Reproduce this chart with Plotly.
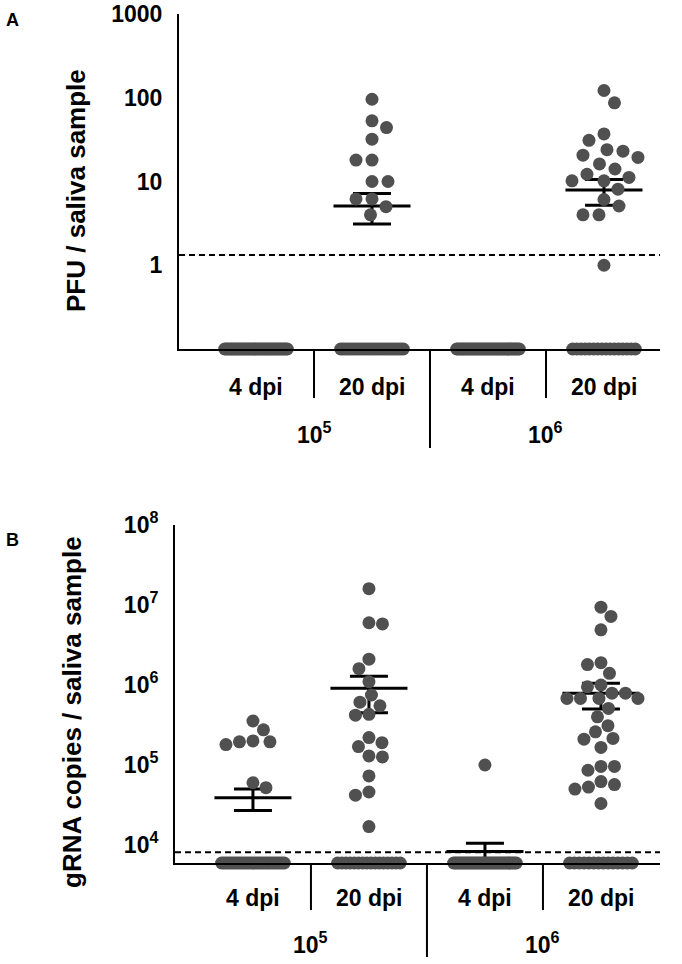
import math
import numpy as np
import plotly.graph_objects as go

# ---------------- data ----------------
group_labels = ["4 dpi", "20 dpi", "4 dpi", "20 dpi"]
dose_labels = ["10<sup>5</sup>", "10<sup>6</sup>"]

# Panel A: PFU / saliva sample (positive samples per group)
pfu_1e5_4dpi = []
pfu_1e5_20dpi = [96, 53, 44, 32, 18, 18, 10, 10, 6.2, 6.2, 5.0, 4.0]
pfu_1e6_4dpi = []
pfu_1e6_20dpi = [122, 87, 37, 31, 24, 23, 20.6, 19.4, 16.2, 14.1, 12.2, 11.2,
                 10.2, 10.2, 8.1, 6.1, 5.1, 4.0, 4.0, 1.0]
pfu_zero_counts = [36, 24, 36, 16]
pfu_mean = [None, 5.1, None, 7.9]
pfu_err_hi = [None, 7.2, None, 10.6]
pfu_err_lo = [None, 3.1, None, 5.2]
pfu_lod = 1.33

# Panel B: gRNA copies / saliva sample (positive samples per group)
rna_1e5_4dpi = [2.75e5, 3.55e5, 1.95e5, 1.8e5, 1.95e5, 2.0e5, 6.0e4, 5.2e4]
rna_1e5_20dpi = [1.6e7, 6.0e6, 5.8e6, 2.1e6, 1.6e6, 1.1e6, 7.5e5, 6.1e5, 5.5e5,
                 4.2e5, 4.3e5, 2.2e5, 1.9e5, 1.7e5, 1.3e5, 1.26e5, 7.3e4,
                 4.6e4, 4.2e4, 1.7e4]
rna_1e6_4dpi = [1.0e5]
rna_1e6_20dpi = [9.4e6, 7.2e6, 4.9e6, 1.9e6, 1.8e6, 1.4e6, 1.0e6, 9.5e5, 7.9e5,
                 7.9e5, 6.8e5, 6.8e5, 6.8e5, 6.8e5, 5.1e5, 4.0e5, 3.1e5, 2.6e5,
                 2.1e5, 2.15e5, 1.66e5, 9.6e4, 8.6e4, 9.6e4, 5.7e4, 6.2e4,
                 5.3e4, 5.0e4, 3.3e4]
rna_zero_counts = [28, 16, 35, 14]
rna_mean = [3.9e4, 9.1e5, 8.3e3, 7.9e5]
rna_err_hi = [5.0e4, 1.29e6, 1.05e4, 1.05e6]
rna_err_lo = [2.7e4, 4.5e5, 6.1e3, 5.0e5]
rna_lod = 8.1e3

# ---------------- layout constants ----------------
W, H = 682, 964
FONT = "Liberation Sans, Arial, Helvetica, sans-serif"
DOT = "rgb(80,80,80)"
PX_PER_UNIT = 116.0

A_xrange = [-0.664, 3.483]
A_yrange = [-1, 3]
A_top, A_bot = 14, 349
B_xrange = [-0.672, 3.509]
B_yrange = [3.775, 8]
B_top, B_bot = 525, 863


def swarm(values, px_per_decade, d=16.0, step=0.5):
    ys = [math.log10(v) * px_per_decade for v in values]
    order = sorted(range(len(values)), key=lambda i: -values[i])
    placed = []
    offs = [0.0] * len(values)
    pref = 1
    for i in order:
        y = ys[i]
        k = 0
        found = None
        while found is None:
            cands = [0.0] if k == 0 else [pref * k * step, -pref * k * step]
            for c in cands:
                if all((c - px) ** 2 + (y - py) ** 2 >= d * d for px, py in placed):
                    found = c
                    break
            k += 1
        if found != 0:
            pref = -pref
        offs[i] = found
        placed.append((found, y))
    return [o / PX_PER_UNIT for o in offs]


fig = go.Figure()


def add_panel(groups, zero_counts, means, his, los, lod, xr, yr, top, bot, xa, ya, dmin):
    ppd = (bot - top) / (yr[1] - yr[0])
    # LOD dashed line
    fig.add_trace(go.Scatter(x=[xr[0], xr[1]], y=[lod, lod], mode="lines",
                             line=dict(color="black", width=2, dash="6px,4px"),
                             xaxis=xa, yaxis=ya, hoverinfo="skip", showlegend=False))
    # mean lines
    mx, my = [], []
    for c, m in enumerate(means):
        if m is None:
            continue
        mx += [c - 0.332, c + 0.332, None]
        my += [m, m, None]
    fig.add_trace(go.Scatter(x=mx, y=my, mode="lines",
                             line=dict(color="black", width=3),
                             xaxis=xa, yaxis=ya, hoverinfo="skip", showlegend=False))
    # error bars
    ex, ey, eh, el = [], [], [], []
    for c, m in enumerate(means):
        if m is None:
            continue
        ex.append(c); ey.append(m); eh.append(his[c] - m); el.append(m - los[c])
    fig.add_trace(go.Scatter(x=ex, y=ey, mode="markers",
                             marker=dict(size=1, color="rgba(0,0,0,0)"),
                             error_y=dict(type="data", array=eh, arrayminus=el,
                                          color="black", thickness=3, width=19),
                             cliponaxis=False,
                             xaxis=xa, yaxis=ya, hoverinfo="skip", showlegend=False))
    # positive points
    px_, py_ = [], []
    for c, vals in enumerate(groups):
        if not vals:
            continue
        offs = swarm(vals, ppd, d=dmin)
        px_ += [c + o for o in offs]
        py_ += list(vals)
    fig.add_trace(go.Scatter(x=px_, y=py_, mode="markers",
                             marker=dict(size=13, color=DOT, line=dict(width=0)),
                             cliponaxis=False,
                             xaxis=xa, yaxis=ya, showlegend=False))
    # zero-valued samples drawn at the axis floor
    zx, zy = [], []
    floor = 10 ** (yr[0] + 1e-4)
    for c, n in enumerate(zero_counts):
        for o in np.linspace(-0.27, 0.27, n):
            zx.append(c + o)
            zy.append(floor)
    fig.add_trace(go.Scatter(x=zx, y=zy, mode="markers",
                             marker=dict(size=13, color=DOT, line=dict(width=0)),
                             cliponaxis=False,
                             xaxis=xa, yaxis=ya, showlegend=False))


add_panel([pfu_1e5_4dpi, pfu_1e5_20dpi, pfu_1e6_4dpi, pfu_1e6_20dpi],
          pfu_zero_counts, pfu_mean, pfu_err_hi, pfu_err_lo, pfu_lod,
          A_xrange, A_yrange, A_top, A_bot, "x", "y", 16.0)
add_panel([rna_1e5_4dpi, rna_1e5_20dpi, rna_1e6_4dpi, rna_1e6_20dpi],
          rna_zero_counts, rna_mean, rna_err_hi, rna_err_lo, rna_lod,
          B_xrange, B_yrange, B_top, B_bot, "x2", "y2", 13.5)


def py(pix):
    return (H - pix) / H


axis_common = dict(showgrid=False, zeroline=False, showline=True, linecolor="black",
                   linewidth=2, ticks="", mirror=False, automargin=False)

fig.update_layout(
    width=W, height=H, margin=dict(l=0, r=0, t=0, b=0, pad=0, autoexpand=False),
    paper_bgcolor="white", plot_bgcolor="white",
    font=dict(family=FONT, color="black"),
    xaxis=dict(axis_common, range=A_xrange, domain=[179 / W, 660 / W],
               showticklabels=False, anchor="y"),
    yaxis=dict(axis_common, type="log", range=A_yrange,
               domain=[py(A_bot), py(A_top)], anchor="x",
               tickvals=[1, 10, 100, 1000], ticktext=["1", "10", "100", "1000"],
               tickfont=dict(size=23, family=FONT, weight="bold"),
               ticklabelstandoff=10),
    xaxis2=dict(axis_common, range=B_xrange, domain=[175 / W, 660 / W],
                showticklabels=False, anchor="y2"),
    yaxis2=dict(axis_common, type="log", range=B_yrange,
                domain=[py(B_bot), py(B_top)], anchor="x2",
                tickvals=[1e4, 1e5, 1e6, 1e7, 1e8],
                ticktext=["10<sup>%d</sup>" % k for k in range(4, 9)],
                tickfont=dict(size=23, family=FONT, weight="bold"),
                ticklabelstandoff=10),
)

shapes = []
annotations = []


def panel_extras(xa, bot, short_end, long_end, lab_y, dose_y):
    for xv, end in [(0.5, short_end), (1.5, long_end), (2.5, short_end)]:
        shapes.append(dict(type="line", xref=xa, yref="paper", x0=xv, x1=xv,
                           y0=py(bot), y1=py(end), line=dict(color="black", width=2)))
    for c, lab in enumerate(group_labels):
        annotations.append(dict(x=c, y=py(lab_y), xref=xa, yref="paper", text=lab,
                                showarrow=False, xanchor="center", yanchor="middle",
                                font=dict(size=23, family=FONT, weight="bold")))
    for k, lab in enumerate(dose_labels):
        annotations.append(dict(x=0.5 + 2 * k, y=py(dose_y), xref=xa, yref="paper",
                                text=lab, showarrow=False, xanchor="center",
                                yanchor="middle",
                                font=dict(size=23, family=FONT, weight="bold")))


panel_extras("x", A_bot, 398, 448, 387, 433)
panel_extras("x2", B_bot, 910, 957, 898, 943)

annotations.append(dict(x=76 / W, y=py(191), xref="paper", yref="paper",
                        text="PFU / saliva sample", textangle=-90, showarrow=False,
                        xanchor="center", yanchor="middle",
                        font=dict(size=26, family=FONT, weight="bold")))
annotations.append(dict(x=72 / W, y=py(712), xref="paper", yref="paper",
                        text="gRNA copies / saliva sample", textangle=-90,
                        showarrow=False, xanchor="center", yanchor="middle",
                        font=dict(size=26, family=FONT, weight="bold")))
annotations.append(dict(x=12 / W, y=py(20), xref="paper", yref="paper", text="A",
                        showarrow=False, xanchor="center", yanchor="middle",
                        font=dict(size=18, family=FONT, weight="bold")))
annotations.append(dict(x=12 / W, y=py(540), xref="paper", yref="paper", text="B",
                        showarrow=False, xanchor="center", yanchor="middle",
                        font=dict(size=18, family=FONT, weight="bold")))

fig.update_layout(shapes=shapes, annotations=annotations)
fig.write_html("out.html",
               config={"displayModeBar": False},
               post_script="document.body.style.margin='0px';"
                           "document.body.style.overflow='hidden';")
